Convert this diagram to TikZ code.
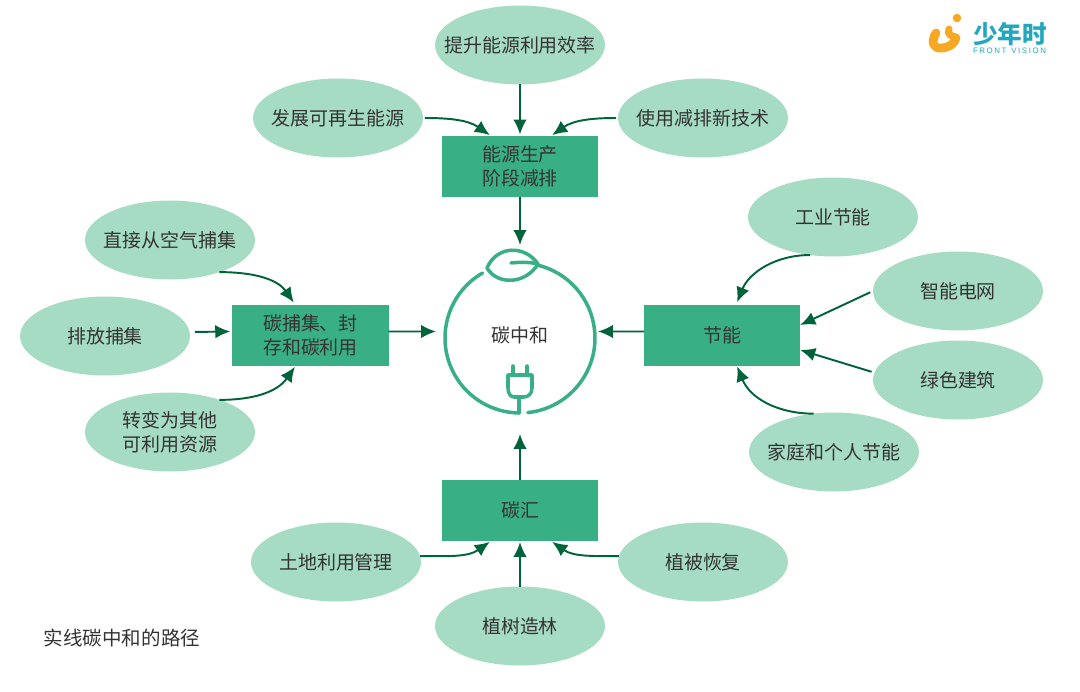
\documentclass[tikz,border=0pt]{standalone}
\usepackage{fontspec}
\setmainfont{Noto Sans CJK SC}
\newfontfamily\logofont[LetterSpace=20]{Liberation Sans}
\usepackage{xcolor}
\usetikzlibrary{shapes.geometric,arrows.meta,positioning}
\definecolor{ovalgreen}{HTML}{A6DCC4}
\definecolor{boxgreen}{HTML}{39AF86}
\definecolor{arrowgreen}{HTML}{00633A}
\definecolor{textgray}{HTML}{333333}
\definecolor{logoblue}{HTML}{22A7BE}
\definecolor{logoyellow}{HTML}{F6A823}

\begin{document}
\begin{tikzpicture}[
    x=0.02cm, y=-0.02cm,
    font=\fontsize{10.8pt}{13.6pt}\selectfont,
    text=textgray,
    oval/.style={ellipse, fill=ovalgreen, minimum width=3.4cm, minimum height=1.58cm, inner xsep=-0.45cm, inner ysep=0pt, outer sep=0pt, align=center},
    box/.style={rectangle, fill=boxgreen, minimum width=3.13cm, minimum height=1.22cm, inner sep=0pt, outer sep=0pt, align=center},
    arrow/.style={-{Latex[length=0.3cm,width=0.27cm]}, arrowgreen, line width=1.1pt},
    ring/.style={boxgreen, line width=2pt, line cap=round, line join=round}
]
    \useasboundingbox (0,0) rectangle (1080,692);

    \node[box] (prod) at (520,166.5) {能源生产\\阶段减排};
    \node[box] (ccus) at (310.5,335.5) {碳捕集、封\\存和碳利用};
    \node[box] (save) at (722,335.5) {节能};
    \node[box] (sink) at (520,510.5) {碳汇};
    \node[circle, minimum size=3cm, inner sep=0pt, outer sep=0pt] (neutral) at (520,338) {};
    \node (neutraltext) at (520,335) {碳中和};

    \node[oval] (effic) at (520,45) {提升能源利用效率};
    \node[oval] (renew) at (338,118) {发展可再生能源};
    \node[oval] (tech) at (703,118) {使用减排新技术};
    \node[oval] (air) at (170,240) {直接从空气捕集};
    \node[oval] (emit) at (105,336) {排放捕集};
    \node[oval] (conv) at (170,432) {转变为其他\\可利用资源};
    \node[oval] (indus) at (833,217) {工业节能};
    \node[oval] (grid) at (958,291) {智能电网};
    \node[oval] (build) at (958,380) {绿色建筑};
    \node[oval] (home) at (834,452) {家庭和个人节能};
    \node[oval] (land) at (336,562) {土地利用管理};
    \node[oval] (veget) at (703,562) {植被恢复};
    \node[oval] (tree) at (520,626) {植树造林};

    \draw[arrow, shorten >=0.03cm] (effic) -- (prod);
    \draw[arrow, shorten >=0.03cm, shorten <=0.04cm] (renew.east) to[out=0, in=145] ([xshift=-0.58cm]prod.north);
    \draw[arrow, shorten >=0.03cm, shorten <=0.04cm] (tech.west) to[out=180, in=35] ([xshift=0.62cm]prod.north);
    \draw[arrow, shorten >=0.36cm] (prod) -- (neutral);

    \draw[arrow, shorten >=0.06cm] (air.-33) to[out=0, in=125] ([xshift=-0.3cm]ccus.north);
    \draw[arrow, shorten >=0.04cm, shorten <=0.1cm] ([yshift=0.08cm]emit.east) -- ([yshift=0.08cm]ccus.west);
    \draw[arrow, shorten >=0.02cm] (conv.33) to[out=0, in=-125] ([xshift=-0.3cm]ccus.south);
    \draw[arrow, shorten >=0.18cm] ([yshift=0.08cm]ccus.east) -- ([yshift=0.13cm]neutral.west);

    \draw[arrow, shorten >=0.06cm] (indus.-121) to[out=180, in=68] ([xshift=0.28cm]save.north);
    \draw[arrow, shorten <=0.06cm] (grid.west) -- ([yshift=0.21cm]save.east);
    \draw[arrow, shorten <=0.06cm] (build.175) -- ([yshift=-0.29cm]save.east);
    \draw[arrow, shorten >=0.01cm] (home.118) to[out=180, in=-68] ([xshift=0.3cm]save.south);
    \draw[arrow, shorten >=0.06cm] ([yshift=0.08cm]save.west) -- ([yshift=0.13cm]neutral.east);

    \draw[arrow, shorten >=0.42cm] (sink) -- (neutral);
    \draw[arrow, shorten >=0.03cm] (land.4) to[out=0, in=-145] ([xshift=-0.58cm]sink.south);
    \draw[arrow, shorten >=0.03cm] (veget.176) to[out=180, in=-35] ([xshift=0.62cm]sink.south);
    \draw[arrow, shorten >=0.02cm] (tree) -- (sink);

    \draw[ring] (neutral.120) arc[start angle=120, end angle=269, radius=1.5cm];
    \draw[ring] (neutral.-84) arc[start angle=-84, end angle=76, radius=1.5cm];
    \draw[ring] (487,268) .. controls (497,245) and (525,245) .. (538,264)
        .. controls (525,285) and (497,285) .. cycle;
    \draw[ring] (511,263) .. controls (520,262) and (530,262) .. (538,264);
    \draw[ring] (519,413) -- (519,397);
    \draw[ring] (508,375) -- (532,375) -- (532,388) .. controls (532,394) and (528,397) .. (524,397)
        -- (514,397) .. controls (511,397) and (508,394) .. (508,388) -- cycle;
    \draw[ring] (513,375) -- (513,366);
    \draw[ring] (527,375) -- (527,366);

    \node[font=\fontsize{11.1pt}{14pt}\selectfont] (caption) at (122,638) {实线碳中和的路径};

    \fill[logoyellow] (957,18) circle (0.085cm);
    \draw[logoyellow, line width=5pt, line cap=round, line join=round] (936,33)
        .. controls (930,43) and (934,49) .. (942,48) .. controls (950,47) and (954,44) .. (956,38);
    \draw[logoyellow, line width=4pt, line cap=round] (949,29) .. controls (947,35) and (951,36) .. (956,37);
    \node[text=logoblue, font=\fontsize{14pt}{14pt}\selectfont\bfseries] (logoname) at (1010,34) {少年时};
    \node[text=logoblue, font=\fontsize{4.5pt}{5pt}\logofont] (logosub) at (1009.5,51) {FRONT\hspace{0.6em}VISION};
\end{tikzpicture}
\end{document}
